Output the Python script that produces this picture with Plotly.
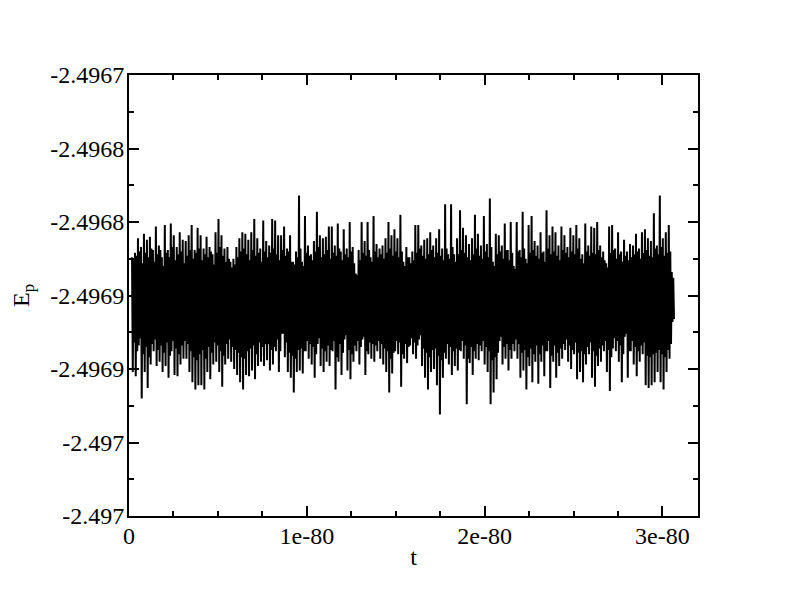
import numpy as np
import plotly.graph_objects as go

# The series is stored by phase of a 4-step cycle: steps 4k, 4k+1, 4k+2, 4k+3.
ep_base = -2.49685

ep_step0 = [  # upward excursions
    26, 29, 39, 33, 42, 38, 40, 31, 47, 34, 26, 48, 31, 49, 41, 33, 43, 38, 37, 41,
    48, 31, 46, 41, 32, 40, 33, 28, 43, 52, 41, 32, 33, 23, 25, 33, 39, 43, 42, 38,
    43, 52, 39, 32, 51,
    37, 34, 52, 51, 41, 41, 47, 32, 41, 23, 30, 68, 23, 54, 34, 28, 37, 57, 41, 39,
    40, 47, 47, 34, 49, 30, 45, 32, 50, 33, 15, 31, 50, 37, 50, 26, 54, 35, 32, 34,
    39, 50, 41, 45, 39,
    55, 23, 33, 26, 30, 48, 48, 34, 38, 39, 43, 34, 39, 45, 32, 62, 28, 62, 28, 39,
    58, 46, 41, 35, 39, 55, 42, 34, 54, 35, 66, 23, 42, 41, 34, 49, 31, 50, 20, 50,
    31, 57, 25, 48, 54, 37,
    34, 43, 30, 58, 41, 47, 43, 34, 47, 41, 33, 46, 41, 48, 39, 28, 49, 34, 47, 46,
    50, 34, 30, 22, 47, 48, 32, 43, 30, 38, 30, 35, 34, 42, 32, 43, 45, 39, 37, 56,
    34, 68, 39, 43, 48, 16,
]
ep_step1 = [  # downward excursions
    -52, -55, -34, -70, -52, -63, -47, -38, -48, -45, -52, -48, -56, -38, -54, -55, -47, -43, -43, -52,
    -59, -64, -61, -61, -64, -52, -57, -47, -45, -52, -62, -47, -43, -45, -50, -54, -59, -64, -54, -55,
    -51, -57, -48, -45, -48,
    -44, -51, -47, -38, -52, -26, -42, -52, -56, -66, -52, -51, -53, -38, -43, -47, -56, -33, -48, -52,
    -45, -48, -38, -64, -45, -54, -30, -51, -57, -45, -38, -47, -30, -54, -40, -43, -45, -38, -43, -47,
    -52, -66, -53, -38, -40,
    -62, -43, -46, -34, -40, -43, -30, -48, -56, -64, -52, -50, -61, -81, -56, -43, -47, -54, -48, -51,
    -38, -43, -74, -46, -54, -43, -44, -38, -47, -52, -74, -66, -57, -31, -47, -43, -51, -43, -38, -43,
    -56, -51, -64, -48, -59, -45,
    -60, -45, -55, -38, -63, -45, -56, -48, -43, -37, -45, -50, -40, -57, -52, -59, -47, -40, -56, -62,
    -48, -45, -38, -52, -65, -36, -38, -45, -59, -28, -56, -38, -47, -55, -45, -40, -61, -63, -61, -59,
    -52, -59, -64, -52, -43, -18,
]
ep_step2 = [  # smaller upward swings
    24, 27, 30, 22, 29, 26, 32, 23, 28, 31, 20, 29, 26, 33, 24, 28, 30, 22, 27, 31,
    25, 29, 32, 24, 28, 26, 30, 21, 29, 33, 27, 23, 25, 19, 21, 26, 30, 32, 28, 24,
    31, 27, 29, 23, 30,
    26, 29, 32, 28, 24, 31, 27, 30, 23, 21, 26, 32, 20, 29, 27, 24, 30, 33, 26, 28,
    31, 25, 29, 27, 32, 24, 28, 26, 30, 22, 14, 24, 29, 27, 31, 23, 30, 26, 28, 25,
    29, 32, 27, 30, 26,
    30, 20, 26, 22, 24, 29, 32, 27, 25, 28, 31, 26, 29, 27, 24, 32, 25, 33, 23, 28,
    31, 29, 26, 24, 28, 32, 27, 25, 30, 26, 33, 20, 28, 30, 25, 31, 24, 29, 18, 30,
    26, 32, 22, 29, 31, 27,
    25, 29, 23, 32, 28, 30, 27, 24, 31, 29, 26, 30, 28, 32, 25, 22, 30, 27, 29, 28,
    31, 26, 24, 19, 29, 31, 25, 28, 23, 27, 24, 26, 28, 30, 25, 29, 31, 27, 26, 32,
    28, 33, 27, 29, 30, 12,
]
ep_step3 = [  # smaller downward swings
    -32, -38, -29, -40, -35, -42, -33, -30, -37, -34, -39, -32, -41, -31, -36, -40, -34, -31, -33, -38,
    -42, -44, -40, -37, -43, -35, -39, -32, -34, -38, -41, -33, -30, -35, -37, -39, -42, -43, -38, -36,
    -34, -40, -32, -35, -33,
    -33, -37, -35, -30, -38, -26, -32, -39, -41, -43, -37, -36, -38, -31, -33, -35, -40, -29, -36, -38,
    -34, -37, -31, -42, -33, -39, -27, -37, -40, -34, -31, -35, -28, -38, -32, -33, -34, -31, -33, -36,
    -38, -43, -39, -31, -32,
    -40, -33, -35, -29, -32, -34, -27, -36, -39, -42, -37, -36, -41, -44, -39, -33, -35, -38, -36, -37,
    -31, -34, -43, -35, -38, -33, -34, -31, -35, -38, -44, -42, -39, -28, -35, -33, -37, -33, -30, -33,
    -39, -37, -42, -36, -40, -34,
    -40, -34, -38, -31, -41, -34, -39, -36, -33, -30, -34, -37, -32, -39, -38, -40, -35, -32, -38, -41,
    -36, -34, -31, -37, -42, -29, -31, -34, -40, -26, -38, -31, -35, -38, -34, -32, -41, -42, -40, -39,
    -37, -40, -42, -37, -33, -16,
]
t_first = 0.017e-80
t_last = 3.065e-80

x_tickvals = [0, 1e-80, 2e-80, 3e-80]
x_ticktext = ["0", "1e-80", "2e-80", "3e-80"]
y_tickvals = [-2.4967, -2.49675, -2.4968, -2.49685, -2.4969, -2.49695, -2.4970]
y_ticktext = ["-2.4967", "-2.4968", "-2.4968", "-2.4969", "-2.4969", "-2.497", "-2.497"]

ep = []
for a, b, c, d in zip(ep_step0, ep_step1, ep_step2, ep_step3):
    for v in (a, b, c, d):
        ep.append(ep_base + v * 1e-6)
t = np.linspace(t_first, t_last, len(ep))

FONT = "Liberation Serif"

fig = go.Figure()
fig.add_trace(go.Scatter(x=t, y=ep, mode="lines",
                         line=dict(color="black", width=2), hoverinfo="skip"))

axis_common = dict(
    ticks="inside", ticklen=10, tickwidth=2, tickcolor="black",
    showline=True, linewidth=2, linecolor="black", mirror="ticks",
    showgrid=False, zeroline=False, automargin=False,
    tickfont=dict(family=FONT, size=24, color="black"),
)
fig.update_xaxes(
    range=[0, 3.2e-80], tickmode="array", tickvals=x_tickvals, ticktext=x_ticktext,
    minor=dict(tickmode="linear", tick0=0, dtick=0.25e-80, ticks="inside",
               ticklen=5, tickwidth=2, tickcolor="black", showgrid=False),
    ticklabelstandoff=-3,
    title=dict(text="t", standoff=0, font=dict(family=FONT, size=24, color="black")),
    **axis_common,
)
fig.update_yaxes(
    range=[-2.4970, -2.4967], tickmode="array", tickvals=y_tickvals, ticktext=y_ticktext,
    minor=dict(tickmode="linear", tick0=-2.4970, dtick=0.000025, ticks="inside",
               ticklen=5, tickwidth=2, tickcolor="black", showgrid=False),
    ticklabelstandoff=-2,
    title=dict(text="E<sub>p</sub>", standoff=19, font=dict(family=FONT, size=24, color="black")),
    **axis_common,
)
fig.update_layout(
    width=784, height=599,
    margin=dict(l=121, r=94, t=67, b=91),
    paper_bgcolor="white", plot_bgcolor="white",
    font=dict(family=FONT, size=24, color="black"),
    showlegend=False,
)
fig.write_html("out.html")
